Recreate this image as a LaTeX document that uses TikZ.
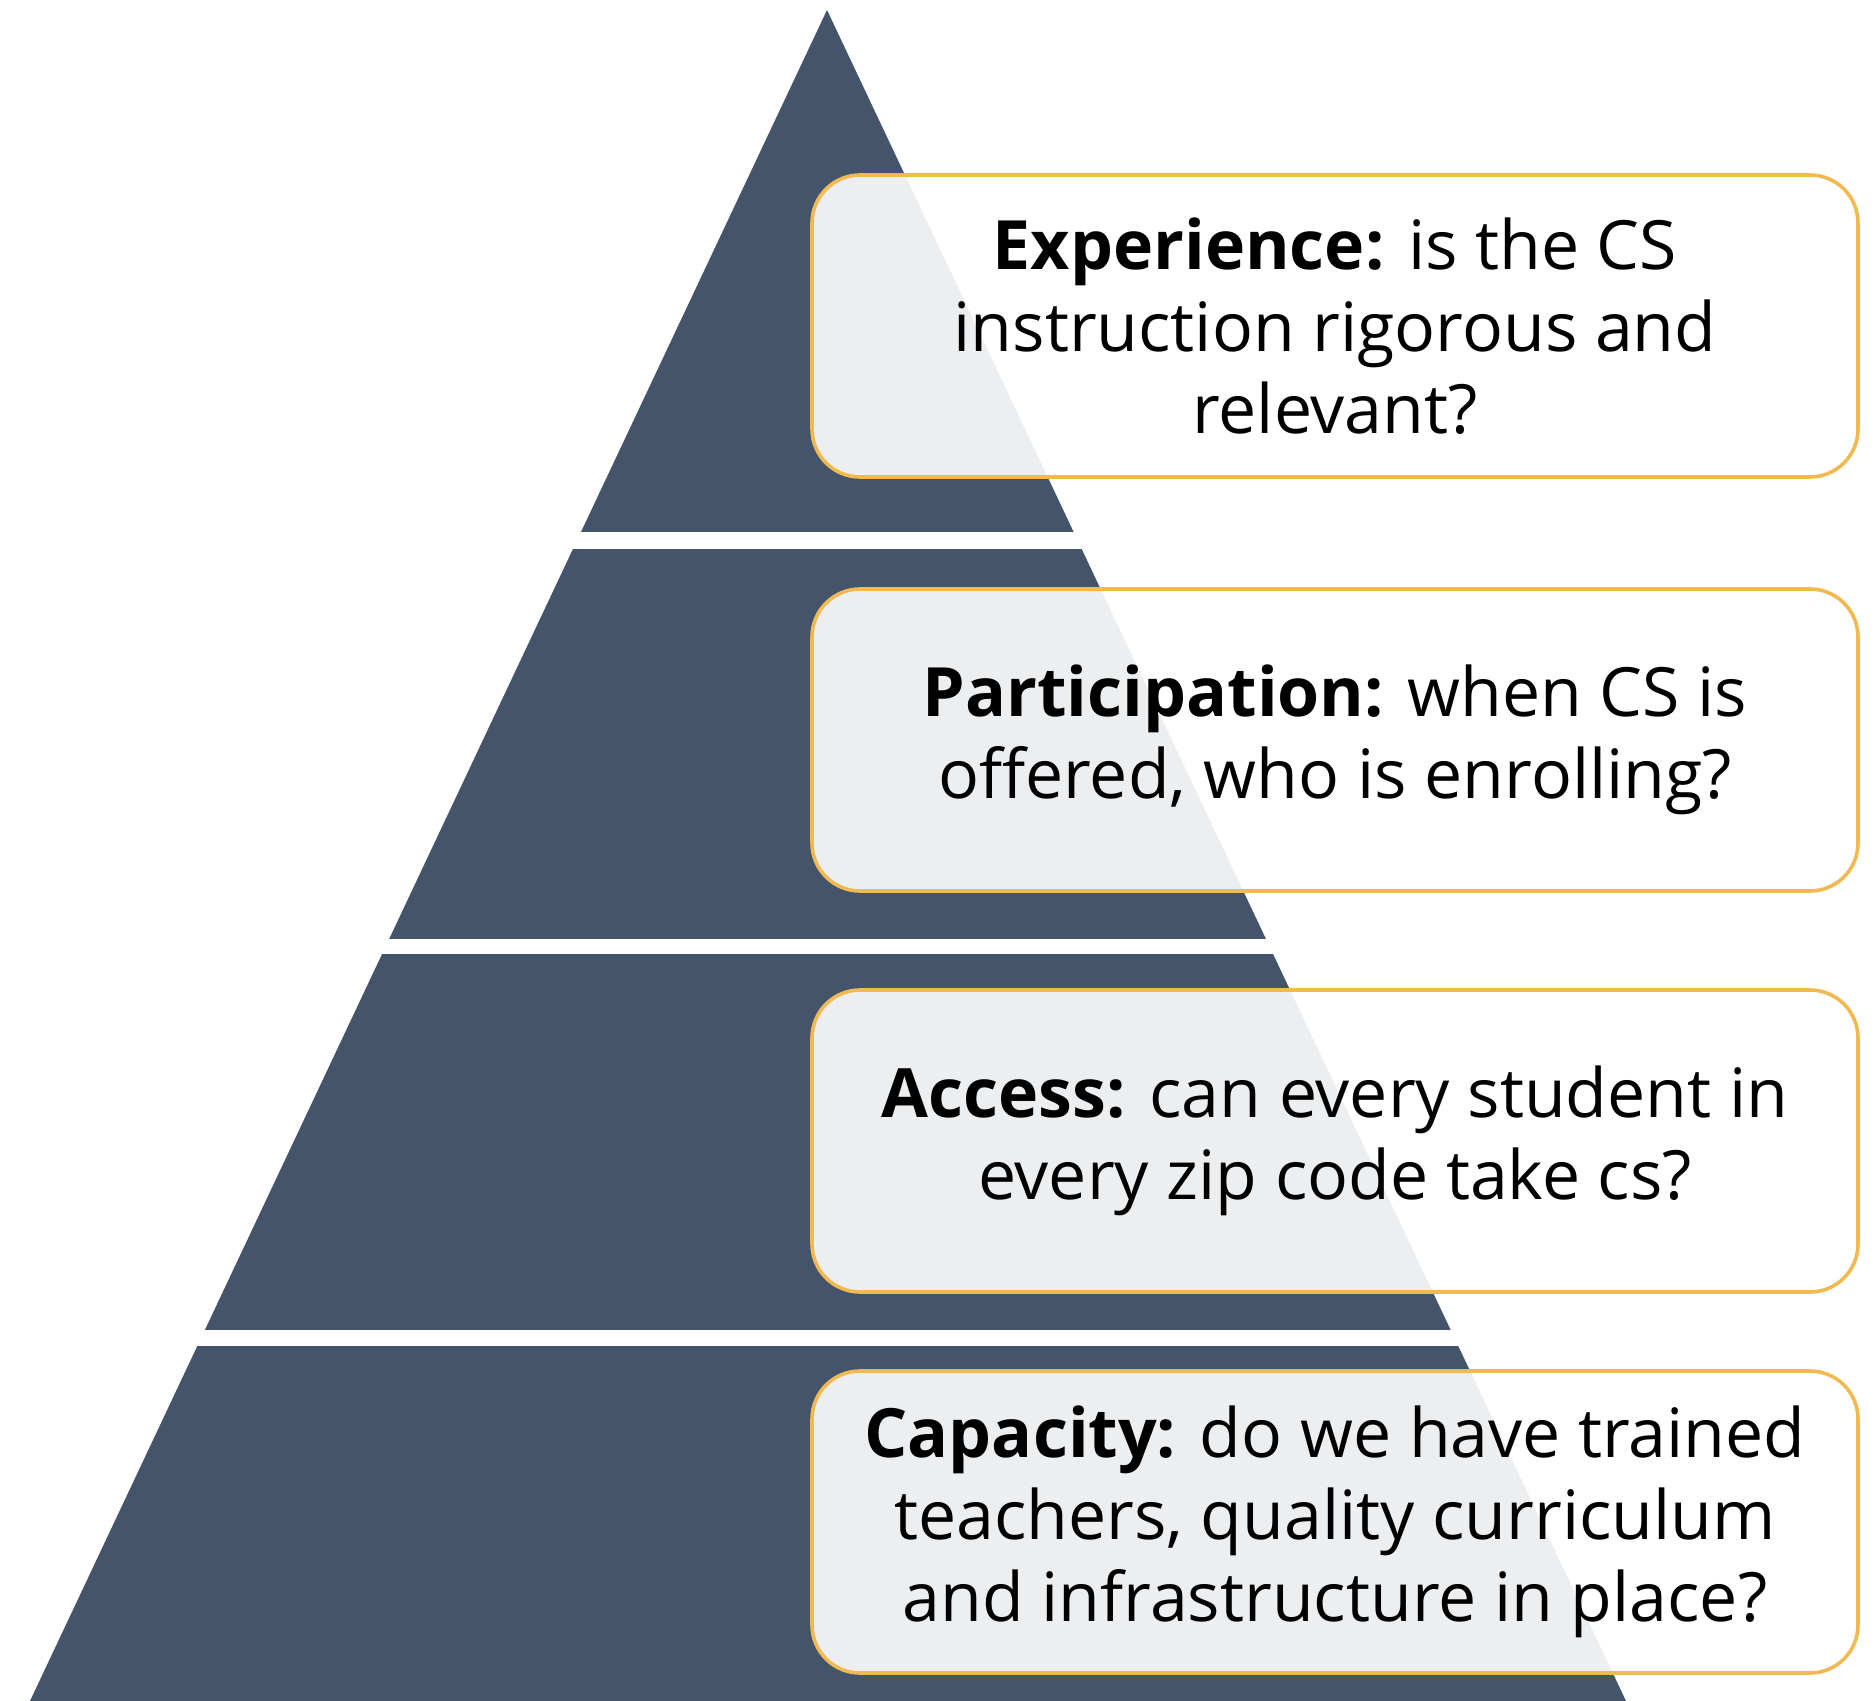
\documentclass[tikz,border=0pt]{standalone}
\usepackage{fontspec}
\setmainfont{Open Sans}
\definecolor{slate}{HTML}{44546A}
\definecolor{gold}{RGB}{242,185,80}
\tikzset{tierbox/.style={draw=gold, line width=1.8pt, rounded corners=24pt, fill=white, fill opacity=0.9, text opacity=1, minimum width=523pt, minimum height=151pt, align=center, font=\fontsize{34}{41}\selectfont}}
\begin{document}
\begin{tikzpicture}[x=0.5pt,y=-0.5pt]
		\useasboundingbox (0,0) rectangle (1875,1701);
		\coordinate (A) at (827,10);
		\coordinate (L) at (30,1701);
		\coordinate (R) at (1626,1701);
		\fill [slate] (A) -- (L) -- (R) -- cycle;
		\fill [white] (0,532) rectangle (1875,549);
		\fill [white] (0,939) rectangle (1875,954);
		\fill [white] (0,1330) rectangle (1875,1346);
		\node [tierbox] (experience) at (1335,326) {\textbf{Experience:} is the CS\\instruction rigorous and\\relevant?};
		\node [tierbox] (participation) at (1335,740) {\textbf{Participation:} when CS is\\offered, who is enrolling?};
		\node [tierbox] (access) at (1335,1141) {\textbf{Access:} can every student in\\every zip code take cs?};
		\node [tierbox] (capacity) at (1335,1522) {\textbf{Capacity:} do we have trained\\teachers, quality curriculum\\and infrastructure in place?};
	\end{tikzpicture}
\end{document}
